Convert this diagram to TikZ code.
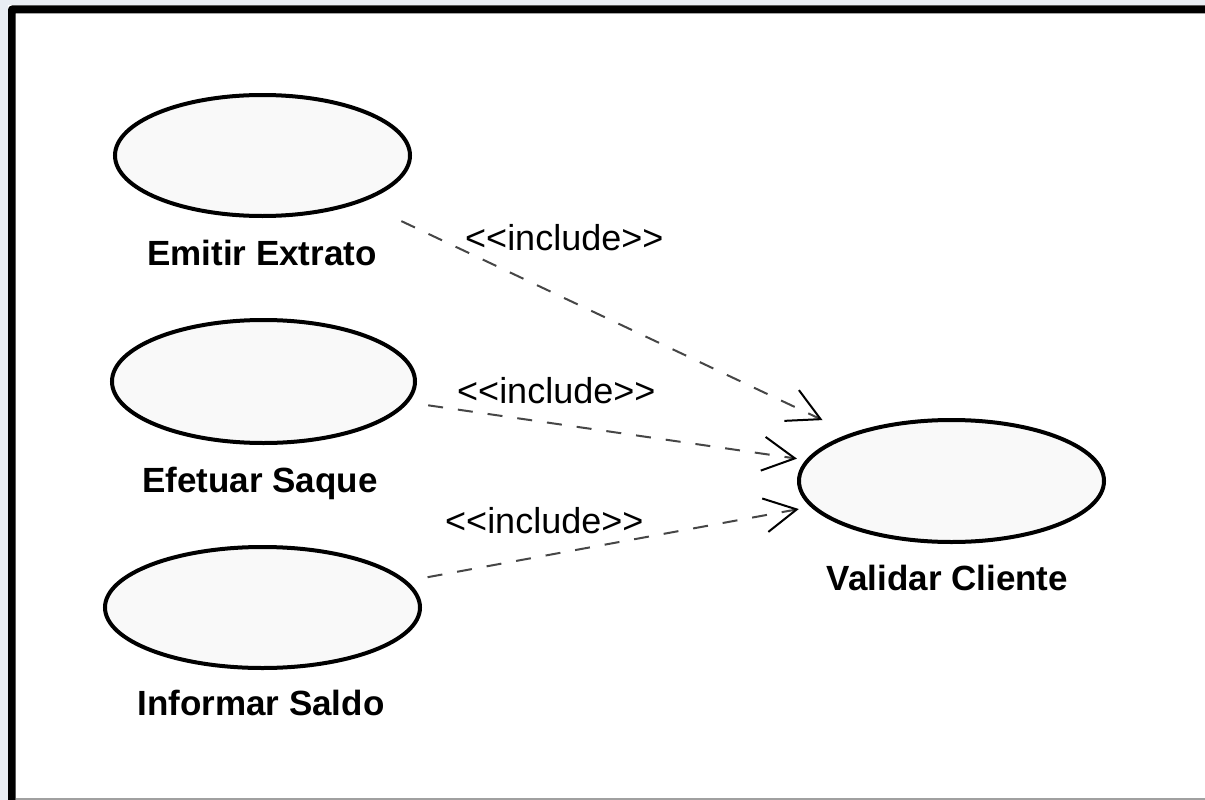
\documentclass[tikz,border=0pt]{standalone}
\usepackage{xcolor}
\usepackage{tikz}
\usepackage{fontspec}
\setmainfont{Liberation Sans}
\usetikzlibrary{arrows.meta, shapes.geometric}

\begin{document}
\begin{tikzpicture}[x=1pt, y=-1pt,
  caso/.style={ellipse, draw=black, line width=4pt, fill=fundoCaso, inner sep=0pt},
  nome/.style={anchor=base, inner sep=0pt, font=\fontsize{35}{40}\selectfont\bfseries},
  estereotipo/.style={anchor=base west, inner sep=0pt, font=\fontsize{36}{40}\selectfont},
  inclui/.style={draw=cinzaLinha, line width=2pt, dash pattern=on 15pt off 15pt,
    -{Straight Barb[length=32pt, width=34pt, line width=2pt, color=black]}}]
  \definecolor{fundoJanela}{RGB}{233,237,243}
  \definecolor{fundoCaso}{RGB}{249,249,249}
  \definecolor{cinzaLinha}{RGB}{70,70,70}
  \definecolor{cinzaBorda}{RGB}{160,160,160}

  \useasboundingbox (0,0) rectangle (1205,800);
  % moldura da janela
  \fill[fundoJanela] (0,0) rectangle (1205,800);
  \fill[white] (8,5.5) rectangle (1205,800);
  \fill[black] (8,800) [rounded corners=4pt] -- (8,5.5) [sharp corners] -- (1205,5.5)
    -- (1205,13.5) -- (15.5,13.5) -- (15.5,800) -- cycle;
  \fill[cinzaBorda] (15.5,797.5) rectangle (1205,800);

  % casos de uso
  \node[caso, minimum width=295pt, minimum height=121pt] (emitir) at (262.5,155.5) {};
  \node[caso, minimum width=303pt, minimum height=123pt] (efetuar) at (263.5,381.5) {};
  \node[caso, minimum width=315pt, minimum height=121pt] (informar) at (262.5,607.5) {};
  \node[caso, minimum width=305pt, minimum height=122pt] (validar) at (951.5,481) {};

  \node[nome] (emitirNome) at (262,265) {Emitir Extrato};
  \node[nome] (efetuarNome) at (260,492) {Efetuar Saque};
  \node[nome] (informarNome) at (261,715) {Informar Saldo};
  \node[nome] (validarNome) at (947.5,590) {Validar Cliente};

  % include
  \draw[inclui, shorten <=44pt, shorten >=31pt] (emitir) -- (validar);
  \draw[inclui, shorten <=20pt, shorten >=9pt] (efetuar) -- (validar);
  \draw[inclui, shorten <=21pt, shorten >=12pt] (informar) -- (validar);

  \node[estereotipo] (inclui1) at (465,250) {<{}<include>{}>};
  \node[estereotipo] (inclui2) at (457,403) {<{}<include>{}>};
  \node[estereotipo] (inclui3) at (445,533) {<{}<include>{}>};
\end{tikzpicture}
\end{document}
